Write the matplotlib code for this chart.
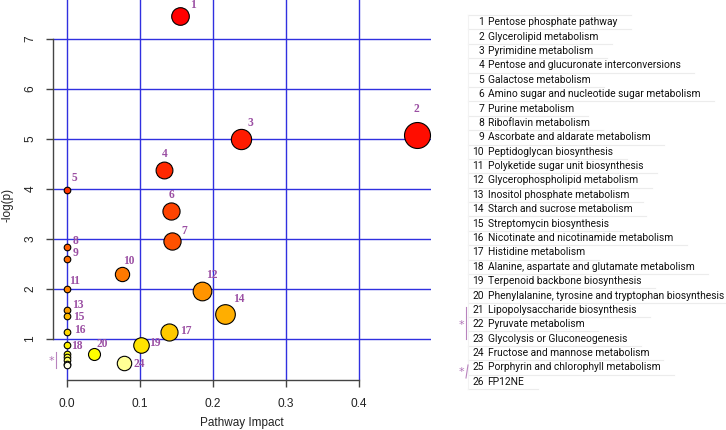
import colorsys
import numpy as np
import matplotlib
matplotlib.use("Agg")
import matplotlib.pyplot as plt

# pathway data (ordered by p value)
names = ["Pentose phosphate pathway", "Glycerolipid metabolism", "Pyrimidine metabolism",
         "Pentose and glucuronate interconversions", "Galactose metabolism",
         "Amino sugar and nucleotide sugar metabolism", "Purine metabolism",
         "Riboflavin metabolism", "Ascorbate and aldarate metabolism",
         "Peptidoglycan biosynthesis", "Polyketide sugar unit biosynthesis",
         "Glycerophospholipid metabolism", "Inositol phosphate metabolism",
         "Starch and sucrose metabolism", "Streptomycin biosynthesis",
         "Nicotinate and nicotinamide metabolism", "Histidine metabolism",
         "Alanine, aspartate and glutamate metabolism", "Terpenoid backbone biosynthesis",
         "Phenylalanine, tyrosine and tryptophan biosynthesis",
         "Lipopolysaccharide biosynthesis", "Pyruvate metabolism",
         "Glycolysis or Gluconeogenesis", "Fructose and mannose metabolism",
         "Porphyrin and chlorophyll metabolism", "FP12NE"]
impact = [0.155, 0.479, 0.238, 0.133, 0.0, 0.142, 0.144, 0.0, 0.0, 0.075,
          0.0, 0.185, 0.0, 0.217, 0.0, 0.0, 0.140, 0.0, 0.102, 0.037,
          0.0, 0.0, 0.0, 0.078, 0.0, 0.0]
neglogp = [7.46, 5.07, 5.00, 4.38, 3.97, 3.56, 2.95, 2.83, 2.59, 2.29,
           1.99, 1.96, 1.57, 1.50, 1.45, 1.14, 1.14, 0.88, 0.88, 0.70,
           0.69, 0.63, 0.57, 0.52, 0.50, 0.47]
xticks = [0.0, 0.1, 0.2, 0.3, 0.4]
yticks = [1, 2, 3, 4, 5, 6, 7]

# label offsets in pixels (dx right, dy down); None = no label
lab_off = [(13, -11), (0, -26), (10, -15.6), (0.7, -15.4), (7, -12), (0.6, -16),
           (12, -10), (8.6, -5.7), (8.6, -5.7), (6.7, -13), (7.3, -8.3), (9.7, -15.3),
           (10.6, -4.7), (13.4, -14.7), (11.3, 1.3), (12.3, -1.4), (16.7, -1),
           (9.6, 1.7), (13.6, -1), (8.4, -9.7), None, None, None, (15, 1.6), None, None]

W, H = 726, 430
PURPLE = "#9b4fa3"
BLUE = "#3030e0"
TFONT = "Roboto"


def heat_colors(n):
    # same scheme as R heat.colors
    j = n // 4
    i = n - j
    cols = []
    for k in range(i):
        h = (1 / 6) * k / (i - 1)
        cols.append(colorsys.hsv_to_rgb(h, 1, 1))
    for s in np.linspace(1 - 1 / (2 * j), 1 / (2 * j), j):
        cols.append(colorsys.hsv_to_rgb(1 / 6, s, 1))
    return cols


def fx(x):
    return x / W


def fy(y):
    return 1 - y / H


fig = plt.figure(figsize=(W / 100, H / 100), dpi=100)
ax = fig.add_axes([fx(53), fy(380), (431 - 53) / W, 380 / H])
ax.set_xlim(-0.0192, 0.4986)
ax.set_ylim(0.17, 7.77)

for t in xticks:
    ax.axvline(t, color=BLUE, lw=1.0, zorder=1)
for t in yticks:
    ax.axhline(t, color=BLUE, lw=1.0, zorder=1)

order = np.argsort(neglogp)[::-1]
cols = [None] * len(neglogp)
for c, idx in zip(heat_colors(len(neglogp)), order):
    cols[idx] = c

imp = np.array(impact)
rad = 3.3 + 14 * np.sqrt(imp)          # radius in pixels
sizes = (2 * rad * 0.72) ** 2
# draw big ones first so small ones stay visible
for k in np.argsort(-rad, kind="stable"):
    ax.scatter(impact[k], neglogp[k], s=sizes[k], c=[cols[k]], edgecolors="black",
               linewidths=0.8, zorder=3)

for k, off in enumerate(lab_off):
    if off is None:
        continue
    ax.annotate(str(k + 1), (impact[k], neglogp[k]), xytext=(off[0] * 0.72, -off[1] * 0.72),
                textcoords="offset points", ha="center", va="center", color=PURPLE,
                fontsize=8.3, fontweight="bold", family="Liberation Serif", zorder=4)

for s in ["top", "right"]:
    ax.spines[s].set_visible(False)
ax.spines["left"].set_bounds(1, 7)
ax.spines["bottom"].set_bounds(0, 0.4)
for s in ["left", "bottom"]:
    ax.spines[s].set_color("#444444")
    ax.spines[s].set_linewidth(1.0)
ax.set_xticks(xticks)
ax.set_xticklabels(["%.1f" % t for t in xticks], family="Liberation Sans", fontsize=8.6,
                   color="#222222")
ax.set_yticks(yticks)
ax.set_yticklabels([str(t) for t in yticks], rotation=90, va="center",
                   family="Liberation Sans", fontsize=8.6, color="#222222")
ax.tick_params(axis="both", length=5, width=1, color="#444444")
ax.tick_params(axis="x", pad=8)
ax.tick_params(axis="y", pad=7)

fig.text(fx(242), fy(423), "Pathway Impact", ha="center", va="center",
         family="Liberation Sans", fontsize=8.5, color="#222222")
fig.text(fx(8), fy(205), "-log(p)", ha="center", va="center", rotation=90,
         family="Liberation Sans", fontsize=8.5, color="#222222")

# bracket for stacked points at x=0
fig.text(fx(51.5), fy(361), "*", ha="center", va="center", color=PURPLE, fontsize=8,
         alpha=0.8)
fig.add_artist(plt.Line2D([fx(56), fx(56)], [fy(352), fy(368)], color=PURPLE, lw=0.8,
                          alpha=0.7))

# pathway table on the right
row0, dy = 22.3, 14.38
fig.canvas.draw()
rend = fig.canvas.get_renderer()
# fit the widest name so it ends near the right edge
probe = fig.text(0, 0, max(names, key=len), family=TFONT, fontsize=8)
pw = probe.get_window_extent(rend).width
probe.remove()
fs = 8 * (724 - 487.5) / pw

for k, nm in enumerate(names):
    y = row0 + k * dy
    fig.text(fx(484), fy(y), str(k + 1), ha="right", va="center", family=TFONT,
             fontsize=fs, color="#111111")
    t = fig.text(fx(487.5), fy(y), nm, ha="left", va="center", family=TFONT,
                 fontsize=fs, color="#111111")
    bb = t.get_window_extent(rend)
    xe = min(bb.x1 + 14, W)
    yl = y + dy / 2
    fig.add_artist(plt.Line2D([fx(468), fx(xe)], [fy(yl), fy(yl)], color="#ececec", lw=0.8))
    if k == 0:
        yt = y - dy / 2
        fig.add_artist(plt.Line2D([fx(468), fx(xe)], [fy(yt), fy(yt)], color="#ececec", lw=0.8))
fig.add_artist(plt.Line2D([fx(468), fx(468)], [fy(15), fy(row0 + 25.5 * dy)], color="#f2f2f2",
                          lw=0.8))

fig.text(fx(461.5), fy(325), "*", ha="center", va="center", color=PURPLE, fontsize=8,
         alpha=0.8)
fig.add_artist(plt.Line2D([fx(466), fx(466)], [fy(307), fy(339)], color=PURPLE, lw=0.8,
                          alpha=0.7))
fig.text(fx(461.5), fy(372), "*", ha="center", va="center", color=PURPLE, fontsize=8,
         alpha=0.8)
fig.add_artist(plt.Line2D([fx(468), fx(466)], [fy(365), fy(378)], color=PURPLE, lw=0.8,
                          alpha=0.7))

fig.savefig("out.png", dpi=100)
